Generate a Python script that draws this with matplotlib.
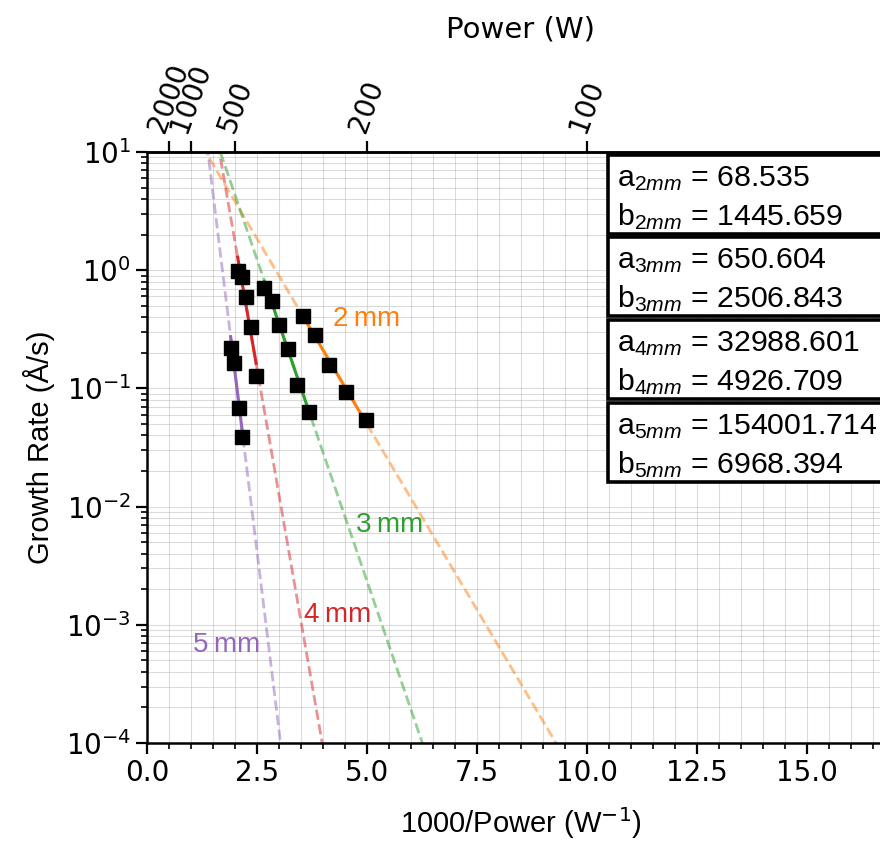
import numpy as np
import matplotlib
matplotlib.use("Agg")
import matplotlib.pyplot as plt
from matplotlib.patches import Rectangle
from matplotlib.ticker import MultipleLocator, LogLocator, NullFormatter

plt.rcParams["mathtext.fontset"] = "dejavusans"
plt.rcParams["mathtext.rm"] = "Liberation Sans"
plt.rcParams["mathtext.it"] = "Liberation Sans:italic"

# Measured growth rates, x = 1000/Power (1/W), y = rate (Å/s)
x_2mm = [3.55, 3.82, 4.14, 4.53, 4.98]
y_2mm = [0.41, 0.283, 0.158, 0.093, 0.0537]
x_3mm = [2.67, 2.84, 3.00, 3.20, 3.42, 3.68]
y_3mm = [0.71, 0.55, 0.343, 0.215, 0.107, 0.063]
x_4mm = [2.06, 2.15, 2.25, 2.36, 2.48]
y_4mm = [0.99, 0.88, 0.59, 0.329, 0.128]
x_5mm = [1.90, 1.98, 2.08, 2.17]
y_5mm = [0.218, 0.163, 0.068, 0.039]

# Arrhenius-type fit parameters: rate = a * exp(-b / Power)
a_fit = [68.535, 650.604, 32988.601, 154001.714]
b_fit = [1445.659, 2506.843, 4926.709, 6968.394]

gaps = ["2mm", "3mm", "4mm", "5mm"]
gap_labels = ["2\u2009mm", "3\u2009mm", "4\u2009mm", "5\u2009mm"]
colors = ["tab:orange", "tab:green", "tab:red", "tab:purple"]
label_pos = [(5.0, 0.386), (5.52, 0.00698), (4.34, 0.00121), (1.82, 6.75e-4)]

power_ticks = [2000, 1000, 500, 200, 100]

xs = [x_2mm, x_3mm, x_4mm, x_5mm]
ys = [y_2mm, y_3mm, y_4mm, y_5mm]

W, H = 880, 841
fig = plt.figure(figsize=(W / 100, H / 100), dpi=100)
ax = fig.add_axes([147 / W, 1 - 743 / H, 748 / W, 591 / H])

xfull = np.linspace(0.05, 12, 600)
for xd, yd, a, b, c in zip(xs, ys, a_fit, b_fit, colors):
    ax.plot(xfull, a * np.exp(-b * xfull / 1000), "--", color=c, lw=2, alpha=0.5)
    xr = np.linspace(min(xd), max(xd), 100)
    ax.plot(xr, a * np.exp(-b * xr / 1000), "-", color=c, lw=2.2)
    ax.plot(xd, yd, "s", color="black", ms=10.5, zorder=5)

for (lx, ly), txt, c in zip(label_pos, gap_labels, colors):
    ax.text(lx, ly, txt, color=c, fontsize=20, ha="center", va="center",
            family=["Liberation Sans", "DejaVu Sans"])

ax.set_yscale("log")
ax.set_ylim(1e-4, 10)
ax.set_xlim(0, 17)
ax.xaxis.set_major_locator(MultipleLocator(2.5))
ax.xaxis.set_minor_locator(MultipleLocator(0.5))
ax.yaxis.set_minor_locator(LogLocator(base=10, subs=np.arange(2, 10)))
ax.yaxis.set_minor_formatter(NullFormatter())
ax.grid(which="both", color="#b0b0b0", alpha=0.45, lw=0.8)
ax.set_axisbelow(True)

for sp in ax.spines.values():
    sp.set_linewidth(1.8)
ax.tick_params(which="major", length=8, width=1.6, labelsize=20)
ax.tick_params(which="minor", length=4.5, width=1.2)

ax.set_xlabel("1000/Power (W$^{-1}$)", fontsize=21, labelpad=13,
              family="Liberation Sans")
ax.set_ylabel("Growth Rate (Å/s)", fontsize=21, family="Liberation Sans",
              labelpad=8)

sec = ax.secondary_xaxis("top", functions=(lambda x: 1000 / np.where(x == 0, 1e-9, x),
                                           lambda p: 1000 / np.where(p == 0, 1e-9, p)))
sec.set_xticks(power_ticks)
sec.set_xticklabels([str(p) for p in power_ticks], rotation=70)
sec.tick_params(length=8, width=1.6, labelsize=20)
sec.xaxis.set_minor_locator(plt.NullLocator())
sec.spines["top"].set_linewidth(1.8)
sec.set_xlabel("Power (W)", fontsize=21, labelpad=16)

# Fit parameter boxes
box_tops = [155, 237, 320, 403]
box_h = 79
for i, (g, a, b) in enumerate(zip(gaps, a_fit, b_fit)):
    top = box_tops[i]
    rect = Rectangle((608 / W, 1 - (top + box_h) / H), 300 / W, box_h / H,
                     transform=fig.transFigure, facecolor="white",
                     edgecolor="black", lw=2.6, zorder=10, clip_on=False)
    fig.patches.append(rect)
    fig.text(617 / W, 1 - (top + 31.5) / H, f"a$_{{{g[0]}\\mathit{{{g[1:]}}}}}$ = {a:.3f}",
             fontsize=21.8, family="Liberation Sans", math_fontfamily="custom",
             va="baseline", ha="left", zorder=11)
    fig.text(617 / W, 1 - (top + 70) / H, f"b$_{{{g[0]}\\mathit{{{g[1:]}}}}}$ = {b:.3f}",
             fontsize=21.8, family="Liberation Sans", math_fontfamily="custom",
             va="baseline", ha="left", zorder=11)

fig.savefig("out.png", dpi=100)
